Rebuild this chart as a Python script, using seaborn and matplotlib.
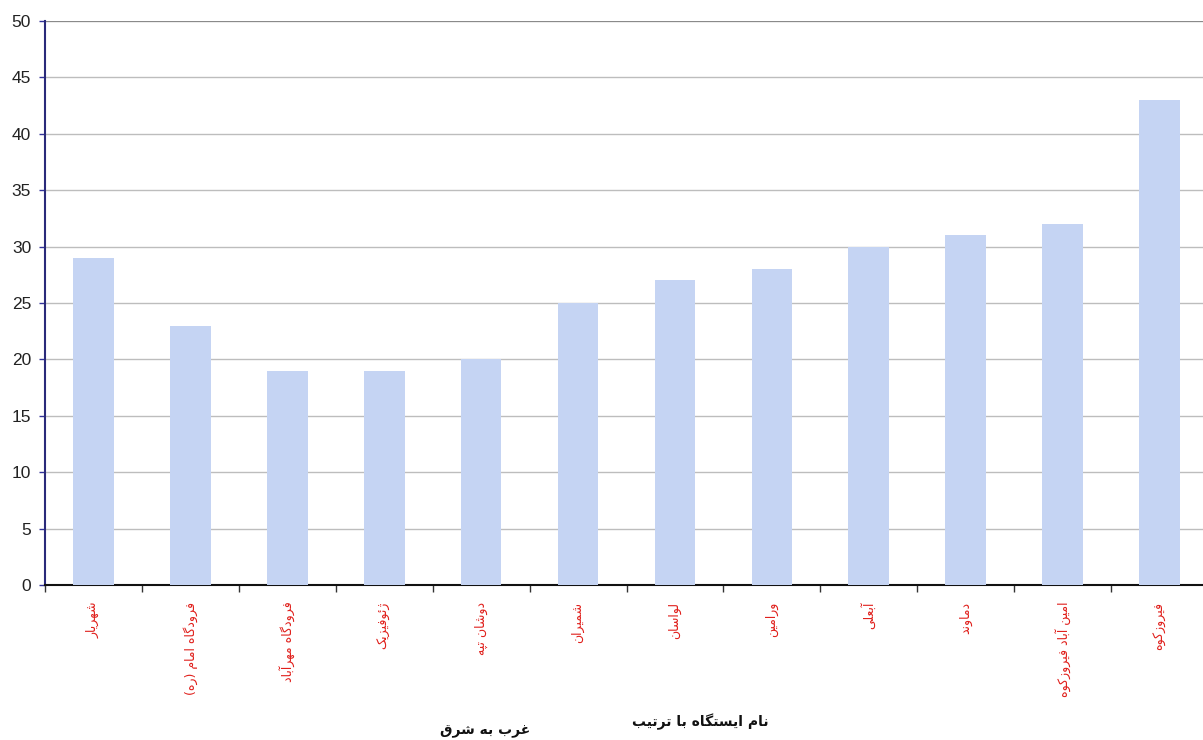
import matplotlib
matplotlib.use("Agg")
import matplotlib.pyplot as plt
import seaborn as sns
import pandas as pd
import numpy as np

# Stations ordered from west to east, with their values
stations = [
    "شهریار", "فرودگاه امام (ره)", "فرودگاه مهرآباد", "ژئوفیزیک", "دوشان تپه",
    "شمیران", "لواسان", "ورامین", "آبعلی", "دماوند", "امین آباد فیروزکوه", "فیروزکوه",
]
values = [29, 23, 19, 19, 20, 25, 27, 28, 30, 31, 32, 43]
y_ticks = [0, 5, 10, 15, 20, 25, 30, 35, 40, 45, 50]

# Contextual forms (isolated, final, initial, medial) for Persian letters,
# since matplotlib draws text without Arabic shaping or bidi reordering.
FORMS = {
    "ا": ("\uFE8D", "\uFE8E"), "آ": ("\uFE81", "\uFE82"),
    "د": ("\uFEA9", "\uFEAA"), "ر": ("\uFEAD", "\uFEAE"),
    "ز": ("\uFEAF", "\uFEB0"), "ژ": ("\uFB8A", "\uFB8B"),
    "و": ("\uFEED", "\uFEEE"),
    "ب": ("\uFE8F", "\uFE90", "\uFE91", "\uFE92"),
    "پ": ("\uFB56", "\uFB57", "\uFB58", "\uFB59"),
    "ت": ("\uFE95", "\uFE96", "\uFE97", "\uFE98"),
    "س": ("\uFEB1", "\uFEB2", "\uFEB3", "\uFEB4"),
    "ش": ("\uFEB5", "\uFEB6", "\uFEB7", "\uFEB8"),
    "ع": ("\uFEC9", "\uFECA", "\uFECB", "\uFECC"),
    "غ": ("\uFECD", "\uFECE", "\uFECF", "\uFED0"),
    "ف": ("\uFED1", "\uFED2", "\uFED3", "\uFED4"),
    "ق": ("\uFED5", "\uFED6", "\uFED7", "\uFED8"),
    "ک": ("\uFB8E", "\uFB8F", "\uFB90", "\uFB91"),
    "گ": ("\uFB92", "\uFB93", "\uFB94", "\uFB95"),
    "ل": ("\uFEDD", "\uFEDE", "\uFEDF", "\uFEE0"),
    "م": ("\uFEE1", "\uFEE2", "\uFEE3", "\uFEE4"),
    "ن": ("\uFEE5", "\uFEE6", "\uFEE7", "\uFEE8"),
    "ه": ("\uFEE9", "\uFEEA", "\uFEEB", "\uFEEC"),
    "ی": ("\uFBFC", "\uFBFD", "\uFBFE", "\uFBFF"),
    "ئ": ("\uFE89", "\uFE8A", "\uFE8B", "\uFE8C"),
}
MIRROR = {"(": ")", ")": "("}


def persian(text):
    out = []
    for i, ch in enumerate(text):
        f = FORMS.get(ch)
        if f is None:
            out.append(MIRROR.get(ch, ch))
            continue
        prev = text[i - 1] if i > 0 else None
        nxt = text[i + 1] if i + 1 < len(text) else None
        join_prev = prev in FORMS and len(FORMS[prev]) == 4
        join_next = len(f) == 4 and nxt in FORMS
        if join_prev and join_next:
            out.append(f[3])
        elif join_prev:
            out.append(f[1])
        elif join_next:
            out.append(f[2])
        else:
            out.append(f[0])
    return "".join(reversed(out))


sns.set_theme(style="white")
plt.rcParams["font.family"] = ["DejaVu Sans"]

df = pd.DataFrame({"station": [persian(s) for s in stations], "value": values})

fig = plt.figure(figsize=(12.03, 7.40), dpi=100)
ax = fig.add_axes([45 / 1203, 1 - 585 / 740, 1163 / 1203, 564 / 740])

sns.barplot(data=df, x="station", y="value", color="#c5d4f3", width=0.42,
            saturation=1, ax=ax, zorder=3)
for p in ax.patches:
    p.set_edgecolor("none")

ax.set_ylim(0, 50)
ax.set_xlim(-0.5, len(stations) - 0.5)
ax.set_yticks(y_ticks)
ax.set_yticklabels([str(t) for t in y_ticks], fontsize=12.5, color="#222222",
                   family=["Liberation Sans", "DejaVu Sans"])
ax.yaxis.grid(True, color="#bdbdbd", linewidth=1.0, zorder=0)
ax.xaxis.grid(False)

# Category labels under the bars, boundary tick marks between categories
ax.set_xticks(range(len(stations)))
ax.set_xticklabels(df["station"], rotation=90, fontsize=9, color="#e0201c")
ax.tick_params(axis="x", which="major", length=0, pad=12)
ax.set_xticks(np.arange(-0.5, len(stations), 1.0), minor=True)
ax.tick_params(axis="x", which="minor", length=5, width=1, color="#333333",
               direction="out", bottom=True)
ax.tick_params(axis="y", which="major", length=4, width=1, color="#333399",
               left=True, pad=6)

ax.set_xlabel("")
ax.set_ylabel("")

for side in ["top", "right"]:
    ax.spines[side].set_visible(False)
ax.spines["left"].set_color("#2a2a7a")
ax.spines["left"].set_linewidth(1.5)
ax.spines["bottom"].set_color("#111111")
ax.spines["bottom"].set_linewidth(1.5)
ax.axhline(50, color="#8a8a8a", linewidth=1.5, zorder=2)

fig.text(700 / 1203, 1 - 722 / 740, persian("نام ایستگاه با ترتیب"),
         ha="center", va="center", fontsize=10, fontweight="bold", color="#111111")
fig.text(485 / 1203, 1 - 731 / 740, persian("غرب به شرق"),
         ha="center", va="center", fontsize=10, fontweight="bold", color="#111111")

fig.savefig("out.png", dpi=100, facecolor="white")
